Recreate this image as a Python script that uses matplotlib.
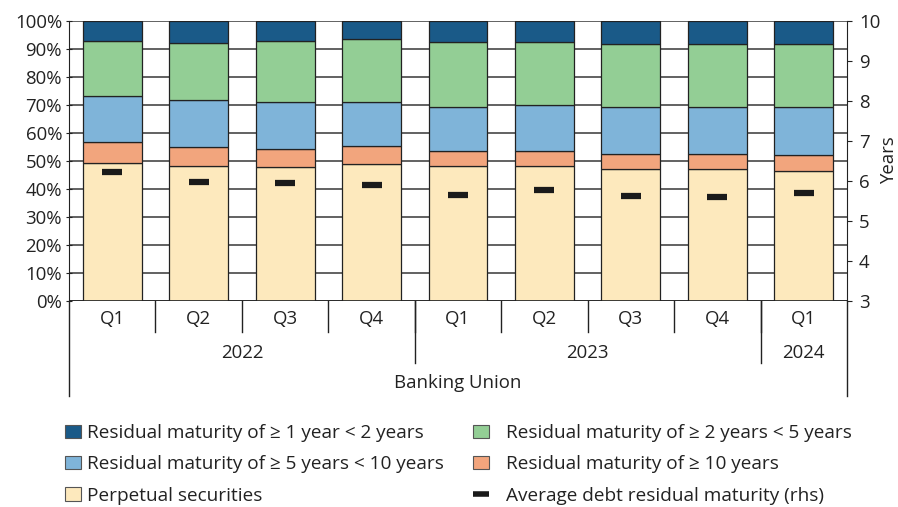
import numpy as np
import matplotlib
matplotlib.use("Agg")
import matplotlib.pyplot as plt
from matplotlib.patches import Patch
from matplotlib.lines import Line2D

plt.rcParams['font.family'] = ['Open Sans', 'DejaVu Sans']

quarters = ['Q1', 'Q2', 'Q3', 'Q4', 'Q1', 'Q2', 'Q3', 'Q4', 'Q1']
years = ['2022', '2023', '2024']
year_counts = [4, 4, 1]
group_label = 'Banking Union'

# shares in % (bottom to top)
perpetual = [49.4, 48.3, 48.0, 48.9, 48.1, 48.1, 47.3, 47.3, 46.5]
ge10 = [7.4, 6.7, 6.4, 6.3, 5.4, 5.6, 5.3, 5.1, 5.8]
y5_10 = [16.5, 16.7, 16.8, 16.0, 15.9, 16.4, 16.6, 16.8, 17.1]
y2_5 = [19.7, 20.6, 21.5, 22.4, 23.1, 22.5, 22.6, 22.5, 22.5]
y1_2 = [7.0, 7.7, 7.3, 6.4, 7.5, 7.4, 8.2, 8.3, 8.1]
avg_maturity = [6.22, 5.98, 5.95, 5.89, 5.66, 5.78, 5.63, 5.60, 5.69]

series = [
    (perpetual, '#fde9bd', 'Perpetual securities'),
    (ge10, '#f2a57d', 'Residual maturity of ≥ 10 years'),
    (y5_10, '#7fb4d9', 'Residual maturity of ≥ 5 years < 10 years'),
    (y2_5, '#93ce95', 'Residual maturity of ≥ 2 years < 5 years'),
    (y1_2, '#1a5a88', 'Residual maturity of ≥ 1 year < 2 years'),
]

fs = 13.4
lfs = 13.7
lc = '#222222'
fig = plt.figure(figsize=(8.98, 5.07), dpi=100)
ax = fig.add_axes([69/898, 1-301/507, 778/898, 280/507])
x = np.arange(len(quarters))

bottom = np.zeros(len(x))
handles = {}
for vals, col, lab in series:
    ax.bar(x, vals, 0.68, bottom=bottom, color=col, edgecolor=lc,
           linewidth=0.9, zorder=3)
    bottom += np.array(vals)
    handles[lab] = Patch(facecolor=col, edgecolor='#555555', linewidth=0.8)

ax.set_xlim(-0.5, len(x) - 0.5)
ax.set_ylim(0, 100)
ax.set_yticks(np.arange(0, 101, 10))
ax.set_yticklabels([f'{v}%' for v in range(0, 101, 10)], fontsize=fs, color=lc)
ax.yaxis.grid(True, color='#555555', linewidth=1.3, zorder=0)
ax.set_axisbelow(True)
ax.set_xticks([])
for s in ['top', 'bottom', 'right']:
    ax.spines[s].set_visible(False)
ax.spines['left'].set_color(lc)
ax.tick_params(axis='y', length=4, direction='inout', color=lc, pad=3)
ax.axhline(0, color=lc, linewidth=1.2, zorder=4)

ax2 = ax.twinx()
ax2.set_ylim(3, 10)
ax2.set_yticks(range(3, 11))
ax2.tick_params(axis='y', labelsize=fs, length=3.6, pad=5, color=lc, labelcolor=lc)
for s in ['top', 'bottom', 'left']:
    ax2.spines[s].set_visible(False)
ax2.spines['right'].set_color(lc)
ax2.set_ylabel('Years', fontsize=fs, color=lc)
ax2.yaxis.set_label_coords((889 - 69) / 778, (301 - 160) / 280)
ax2.yaxis.label.set_va('center')
ax2.plot(x, avg_maturity, ls='none', marker='_', ms=15, mew=4.5, color='#1a1a1a', zorder=5)

# multi-level category axis
tr = ax.get_xaxis_transform()
for i, q in enumerate(quarters):
    ax.text(x[i], -0.064, q, transform=tr, ha='center', va='center', fontsize=fs, color=lc)
for b in x[:-1] + 0.5:
    ax.plot([b, b], [0, -0.111], transform=tr, color=lc, lw=1, clip_on=False)
start = 0
for yr, n in zip(years, year_counts):
    ax.text(start + (n - 1) / 2, -0.185, yr, transform=tr, ha='center', va='center',
            fontsize=fs, color=lc)
    if start > 0:
        ax.plot([start - 0.5, start - 0.5], [0, -0.221], transform=tr, color=lc, lw=1, clip_on=False)
    start += n
for b in [-0.5, len(x) - 0.5]:
    ax.plot([b, b], [0, -0.339], transform=tr, color=lc, lw=1, clip_on=False)
ax.text((len(x) - 1) / 2, -0.292, group_label, transform=tr, ha='center', va='center',
        fontsize=fs, color=lc)

avg_handle = Line2D([], [], ls='none', marker='_', ms=12, mew=4, color='#1a1a1a')
left_labs = ['Residual maturity of ≥ 1 year < 2 years',
             'Residual maturity of ≥ 5 years < 10 years',
             'Perpetual securities']
right_labs = ['Residual maturity of ≥ 2 years < 5 years',
              'Residual maturity of ≥ 10 years',
              'Average debt residual maturity (rhs)']
right_handles = [handles[right_labs[0]], handles[right_labs[1]], avg_handle]

common = dict(loc='upper left', frameon=False, fontsize=lfs, handlelength=0.84,
              handleheight=0.7, labelspacing=0.7, borderaxespad=0, borderpad=0,
              labelcolor=lc)
fig.legend([handles[l] for l in left_labs], left_labs,
           bbox_to_anchor=(65/898, 1 - 424/507), handletextpad=0.3, **common)
fig.legend(right_handles, right_labs,
           bbox_to_anchor=(473/898, 1 - 424/507), handletextpad=0.9, **common)

fig.savefig('out.png', dpi=100)
